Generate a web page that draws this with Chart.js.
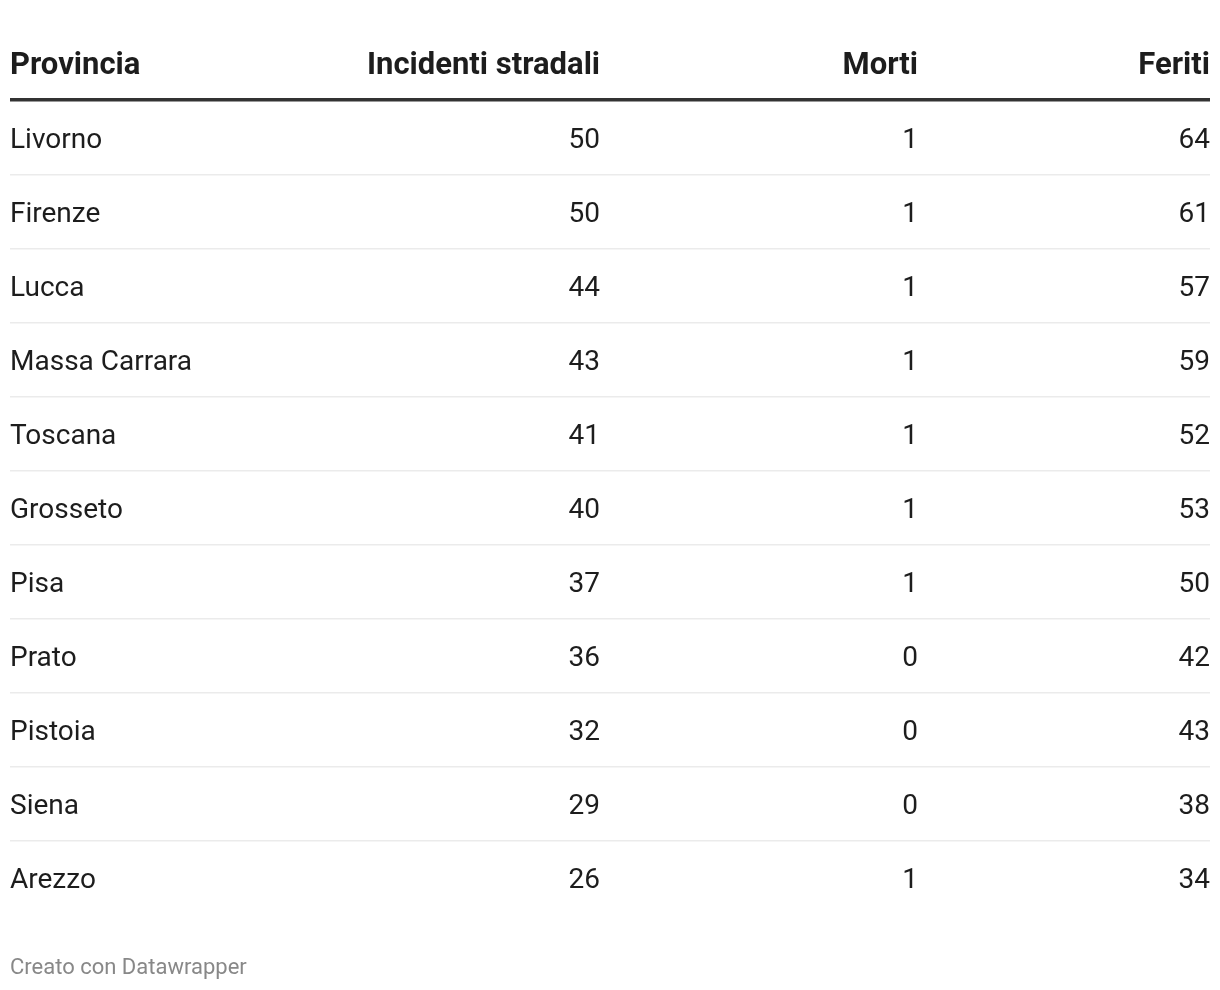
<!DOCTYPE html>
<html>
<head>
<meta charset="utf-8">
<script src="https://cdn.jsdelivr.net/npm/chart.js@4"></script>
<style>
  html, body { margin: 0; padding: 0; background: #fff; }
  #wrap { width: 1220px; height: 990px; position: relative; }
</style>
</head>
<body>
<div id="wrap"><canvas id="myChart"></canvas></div>
<script>
const columns   = ['Provincia', 'Incidenti stradali', 'Morti', 'Feriti'];
const province  = ['Livorno', 'Firenze', 'Lucca', 'Massa Carrara', 'Toscana', 'Grosseto', 'Pisa', 'Prato', 'Pistoia', 'Siena', 'Arezzo'];
const incidenti = [50, 50, 44, 43, 41, 40, 37, 36, 32, 29, 26];
const morti     = [1, 1, 1, 1, 1, 1, 1, 0, 0, 0, 1];
const feriti    = [64, 61, 57, 59, 52, 53, 50, 42, 43, 38, 34];
const footer    = 'Creato con Datawrapper';

// right edges of the numeric columns, as share of table width
const colRight = [0.4917, 0.7567, 1.0];
const FONT = 'Roboto, "Noto Sans", sans-serif';

const tablePlugin = {
  id: 'tableText',
  afterDatasetsDraw(chart) {
    const { ctx, chartArea: a, scales: { y } } = chart;
    const w = a.right - a.left;
    ctx.save();

    // header
    ctx.fillStyle = '#1d1d1d';
    ctx.font = 'bold 31px ' + FONT;
    ctx.textBaseline = 'alphabetic';
    ctx.textAlign = 'left';
    ctx.fillText(columns[0], a.left, a.top - 27);
    ctx.textAlign = 'right';
    colRight.forEach((f, c) => ctx.fillText(columns[c + 1], a.left + w * f, a.top - 27));

    // thick header rule
    ctx.fillStyle = '#333333';
    ctx.fillRect(a.left, a.top - 3, w, 3.5);

    // row separators
    ctx.fillStyle = '#ebebeb';
    for (let i = 0; i < province.length - 1; i++) {
      const yy = (y.getPixelForValue(i) + y.getPixelForValue(i + 1)) / 2;
      ctx.fillRect(a.left, yy - 1, w, 1.5);
    }

    // cells
    ctx.fillStyle = '#1d1d1d';
    ctx.font = '28px ' + FONT;
    chart.data.labels.forEach((lab, i) => {
      const yy = y.getPixelForValue(i) + 10;
      ctx.textAlign = 'left';
      ctx.fillText(lab, a.left, yy);
      ctx.textAlign = 'right';
      chart.data.datasets.forEach((ds, c) => {
        ctx.fillText(String(ds.data[i]), a.left + w * colRight[c], yy);
      });
    });

    // footer
    ctx.fillStyle = '#888888';
    ctx.font = '22px ' + FONT;
    ctx.textAlign = 'left';
    ctx.fillText(footer, a.left, chart.height - 16);
    ctx.restore();
  }
};

const ctx = document.getElementById('myChart');
const myChart = new Chart(ctx, {
  type: 'bar',
  data: {
    labels: province,
    datasets: [
      { label: columns[1], data: incidenti, backgroundColor: 'transparent' },
      { label: columns[2], data: morti, backgroundColor: 'transparent' },
      { label: columns[3], data: feriti, backgroundColor: 'transparent' }
    ]
  },
  options: {
    indexAxis: 'y',
    responsive: true,
    maintainAspectRatio: false,
    animation: false,
    layout: { padding: { top: 101, bottom: 75, left: 10, right: 10 } },
    plugins: { legend: { display: false }, tooltip: { enabled: false } },
    scales: {
      x: { display: false, min: 0 },
      y: { display: false, offset: true }
    }
  },
  plugins: [tablePlugin]
});
</script>
</body>
</html>
